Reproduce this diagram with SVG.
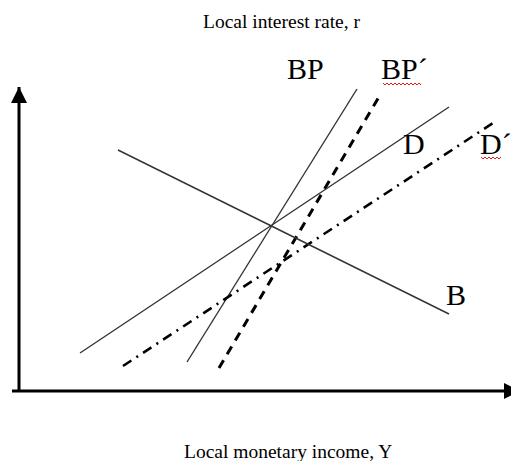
<svg xmlns="http://www.w3.org/2000/svg" width="511" height="461" viewBox="0 0 511 461">
<style>
.t{font-family:"Liberation Serif","Times New Roman",serif;fill:#000}
.lab{font-size:30px}
.ttl{font-size:19.5px}
.solid{stroke:#333;stroke-width:1.4;fill:none}
.dash{stroke:#000;stroke-width:3;fill:none;stroke-dasharray:9 7}
.dashdot{stroke:#000;stroke-width:2.6;fill:none;stroke-dasharray:10 6 2 6}
.axis{stroke:#000;stroke-width:3;fill:none}
.sq{stroke:#e02020;stroke-width:1;fill:none}
</style>
<defs>
<marker id="ah" markerUnits="userSpaceOnUse" markerWidth="16" markerHeight="16" refX="16" refY="8" orient="auto">
<path d="M0,0 L16,8 L0,16 Z" fill="#000"/>
</marker>
</defs>
<rect width="511" height="461" fill="#fff"/>
<g id="axes">
<line class="axis" x1="19" y1="391" x2="19" y2="87" marker-end="url(#ah)"/>
<line class="axis" x1="12" y1="391" x2="520" y2="391" marker-end="url(#ah)"/>
</g>
<g id="connectors">
<line id="BP" class="solid" x1="187" y1="362" x2="357" y2="89"/>
<line id="BPp" class="dash" x1="219" y1="368" x2="380" y2="95"/>
<line id="Dl" class="solid" x1="80" y1="353" x2="449" y2="107"/>
<line id="Dp" class="dashdot" x1="123" y1="366" x2="493" y2="123"/>
<line id="Bl" class="solid" x1="118" y1="150" x2="449" y2="314"/>
</g>
<g id="labels">
<text class="t ttl" x="203" y="28">Local interest rate, r</text>
<text class="t ttl" x="184" y="458">Local monetary income, Y</text>
<g id="lbl-BP"><text class="t lab" x="287" y="79">BP</text></g>
<g id="lbl-BPp"><text class="t lab" x="381" y="79">BP´</text>
<path class="sq" d="M383,83 l2,2 l2,-2 l2,2 l2,-2 l2,2 l2,-2 l2,2 l2,-2 l2,2 l2,-2 l2,2 l2,-2 l2,2 l2,-2 l2,2 l2,-2 l2,2 l2,-2 l2,2"/></g>
<g id="lbl-D"><text class="t lab" x="403" y="154">D</text></g>
<g id="lbl-Dp"><text class="t lab" x="480" y="154">D´</text>
<path class="sq" d="M481,157 l2,2 l2,-2 l2,2 l2,-2 l2,2 l2,-2 l2,2 l2,-2 l2,2 l2,-2"/></g>
<g id="lbl-B"><text class="t lab" x="446" y="305">B</text></g>
</g>
</svg>
